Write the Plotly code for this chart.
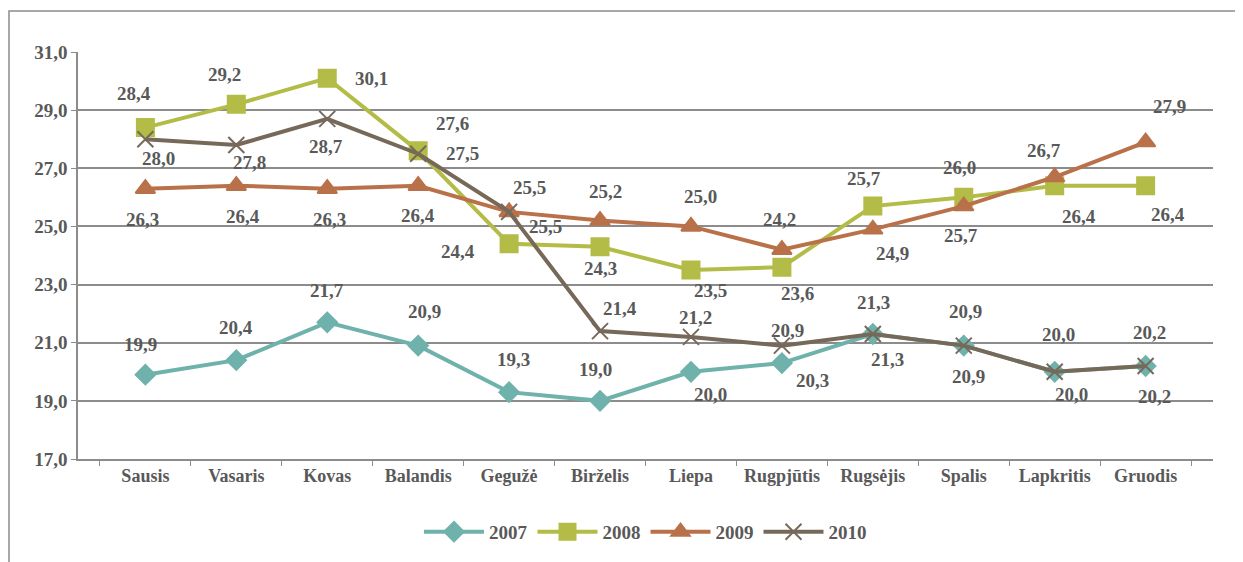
import plotly.graph_objects as go

months = ["Sausis", "Vasaris", "Kovas", "Balandis", "Gegužė", "Birželis",
          "Liepa", "Rugpjūtis", "Rugsėjis", "Spalis", "Lapkritis", "Gruodis"]

y2007 = [19.9, 20.4, 21.7, 20.9, 19.3, 19.0, 20.0, 20.3, 21.3, 20.9, 20.0, 20.2]
y2008 = [28.4, 29.2, 30.1, 27.6, 24.4, 24.3, 23.5, 23.6, 25.7, 26.0, 26.4, 26.4]
y2009 = [26.3, 26.4, 26.3, 26.4, 25.5, 25.2, 25.0, 24.2, 24.9, 25.7, 26.7, 27.9]
y2010 = [28.0, 27.8, 28.7, 27.5, 25.5, 21.4, 21.2, 20.9, 21.3, 20.9, 20.0, 20.2]

# label offsets from each point (px, +dy = downwards)
off2007 = [(-5, -30), (0, -33), (0, -32), (6, -34), (4, -33), (-5, -31),
           (20, 23), (31, 17), (15, 26), (5, 31), (17, 23), (9, 31)]
off2008 = [(-11, -34), (-12, -30), (44, 0), (34, -27), (-51, 8), (0, 22),
           (20, 20), (16, 26), (-9, -28), (-4, -30), (24, 31), (22, 29)]
off2009 = [(-3, 31), (7, 31), (2, 31), (0, 30), (20, -24), (5, -29),
           (10, -30), (-2, -30), (20, 24), (-3, 29), (-11, -27), (24, -36)]
off2010 = [(13, 19), (13, 17), (-1, 28), (44, 0), (36, 15), (20, -23),
           (5, -19), (6, -15), (1, -31), (2, -34), (4, -37), (4, -33)]

FONT = "Times New Roman"
GREY = "#595959"
AXIS = "#8C8C8C"

series = [
    ("2007", y2007, off2007, "#6FB2AC", "diamond", 15),
    ("2008", y2008, off2008, "#B3BC47", "square", 17),
    ("2009", y2009, off2009, "#B9714A", "triangle-up", 17),
    ("2010", y2010, off2010, "#77695A", "x-thin", 16),
]


def bold(size):
    return dict(family=FONT, size=size, color=GREY, weight="bold")


fig = go.Figure()
labels = []
for name, ys, offs, color, symbol, size in series:
    fig.add_trace(go.Scatter(
        x=months, y=ys, name=name, mode="lines+markers",
        line=dict(color=color, width=4),
        marker=dict(symbol=symbol, size=size, color=color,
                    line=dict(color=color, width=2)),
        cliponaxis=False,
    ))
    for m, v, (dx, dy) in zip(months, ys, offs):
        labels.append(dict(
            x=m, y=v, text=f"{v:.1f}".replace(".", ","), showarrow=False,
            xshift=dx, yshift=-dy, font=bold(19),
        ))

fig.update_layout(
    width=1243, height=562,
    plot_bgcolor="white", paper_bgcolor="white",
    separators=",.",
    margin=dict(l=70, r=38, t=44, b=111),
    showlegend=True,
    legend=dict(orientation="h", x=0.5, xanchor="center", y=-0.179, yanchor="middle",
                font=bold(19), itemwidth=60, traceorder="normal"),
    annotations=labels,
    shapes=[dict(type="rect", xref="paper", yref="paper",
                 x0=-0.0608, x1=1.05, y0=-0.4, y1=1.1007,
                 line=dict(color=AXIS, width=1.5), layer="below")],
)
fig.update_xaxes(showgrid=False, showline=True, linecolor=AXIS, linewidth=1.5,
                 ticks="outside", tickson="boundaries", ticklen=5, tickcolor=AXIS,
                 tickfont=bold(18))
fig.update_yaxes(range=[17, 31], tick0=17, dtick=2, tickformat=".1f",
                 showgrid=True, gridcolor=AXIS, gridwidth=1.5,
                 showline=True, linecolor=AXIS, linewidth=1.5,
                 ticks="outside", ticklen=5, tickcolor=AXIS, zeroline=False,
                 tickfont=bold(19))

fig.write_html("out.html")
